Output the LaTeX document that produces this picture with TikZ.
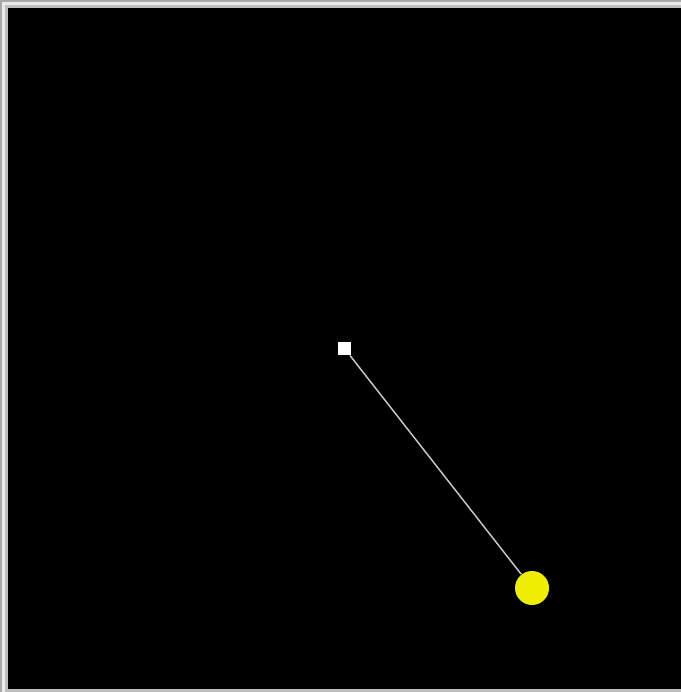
\documentclass[tikz,border=0pt]{standalone}
\tikzset{every picture/.style={line width=0.75pt}}
\tikzset{
    pivotbox/.style={draw=none, fill=white, rectangle, minimum size=9.75pt, inner sep=0pt},
    bobball/.style={draw=none, fill={rgb,255:red,238;green,238;blue,0}, circle, minimum size=25.5pt, inner sep=0pt},
    rod/.style={color={rgb,255:red,200;green,200;blue,200}, line width=1.1pt}
}

\begin{document}
\begin{tikzpicture}[x=0.75pt, y=-0.75pt]
    \useasboundingbox (0,0) rectangle (681,692);
    \fill[color={rgb,255:red,170;green,170;blue,170}] (0,0) rectangle (681,692);
    \fill[color={rgb,255:red,235;green,235;blue,235}] (2,2) rectangle (681,692);
    \fill[color={rgb,255:red,190;green,190;blue,190}] (5,5) rectangle (681,692);
    \fill[black] (8,8) rectangle (681,689);
    \node[pivotbox] (pivot) at (344.5,348.5) {};
    \node[bobball] (bob) at (532,588) {};
    \draw[rod] (pivot) -- (bob);
\end{tikzpicture}
\end{document}
